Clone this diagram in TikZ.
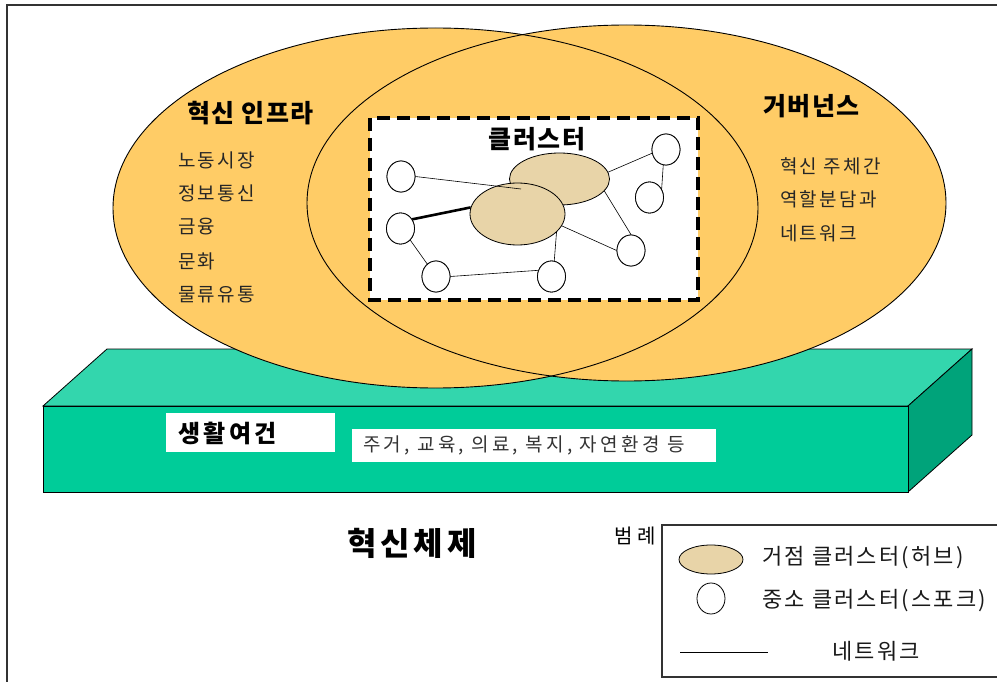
\documentclass[tikz,border=0pt]{standalone}
\usepackage{fontspec}
\setmainfont{Noto Sans CJK KR}
\usetikzlibrary{shapes.geometric}
\definecolor{ellfill}{HTML}{FFCC66}
\definecolor{topg}{HTML}{33D6AD}
\definecolor{frontg}{HTML}{00CC99}
\definecolor{sideg}{HTML}{00A37A}
\definecolor{hubfill}{HTML}{E8D4A8}
\definecolor{frame}{HTML}{333333}
\tikzset{
  face/.style={draw=black, line width=0.8pt, line join=miter},
  bigell/.style={line width=0.9pt},
  hub/.style={ellipse, draw=black, line width=0.8pt, fill=hubfill, inner sep=0pt},
  spoke/.style={ellipse, draw=black, line width=0.8pt, fill=white, inner sep=0pt, minimum width=28pt, minimum height=31pt},
  net/.style={draw=black, line width=0.6pt},
  thicknet/.style={draw=black, line width=2.6pt},
  headfont/.style={font=\fontsize{25}{28}\selectfont\bfseries\addfontfeature{LetterSpace=6}},
  head/.style={headfont, inner sep=0pt, anchor=west},
  item/.style={font=\fontsize{19}{22}\selectfont\addfontfeature{LetterSpace=12}, text=black!85, inner sep=0pt, anchor=west},
  legtext/.style={font=\fontsize{22}{25}\selectfont\addfontfeature{LetterSpace=10}, text=black!90, inner sep=0pt, anchor=west},
}
\begin{document}
\begin{tikzpicture}[x=1pt,y=-1pt]
\useasboundingbox (0,0) rectangle (997,682);
\begin{scope}
\clip (0,0) rectangle (997,682);
% outer frame
\draw[frame, line width=2pt] (7,5) rectangle (1010,700);

% platform
\path[face, fill=topg] (43,406) -- (107,349) -- (972,349) -- (908,406) -- cycle;
\path[face, fill=sideg] (908,406) -- (972,349) -- (972,435) -- (908,492) -- cycle;
\path[face, fill=frontg] (43,406) rectangle (908,492);

% ellipses
\fill[ellfill] (435.5,208) ellipse [x radius=322.5pt, y radius=180pt];
\fill[ellfill] (626.5,203) ellipse [x radius=319.5pt, y radius=178pt];
\draw[bigell] (435.5,208) ellipse [x radius=322.5pt, y radius=180pt];
\draw[bigell] (626.5,203) ellipse [x radius=319.5pt, y radius=178pt];

% cluster box
\fill[white] (370,118) rectangle (698,300);
\draw[line width=4pt, dash pattern=on 13pt off 7pt] (370,118) rectangle (698,300);
\node[headfont, inner sep=0pt] (tclu) at (537,139) {클러스터};

% hubs
\node[hub, minimum width=100pt, minimum height=52pt] (hub1) at (559.5,179) {};
\node[hub, minimum width=95pt, minimum height=62pt] (hub2) at (517.5,214) {};

% spokes
\node[spoke] (c1) at (401,176.5) {};
\node[spoke] (c2) at (400.5,228.5) {};
\node[spoke] (c3) at (436,276.5) {};
\node[spoke] (c4) at (551.5,276.5) {};
\node[spoke] (c5) at (631,250.5) {};
\node[spoke] (c6) at (649.5,197.5) {};
\node[spoke] (c7) at (666,149.5) {};
\coordinate (e1) at (521,189);

% network lines
\draw[net] (c1.east) -- (e1);
\draw[thicknet] (c2.38) -- (hub2.172);
\draw[net] (c2.-50) -- (c3.125);
\draw[net] (c3.east) -- (c4.155);
\draw[net] (c4.80) -- (hub2.-25);
\draw[net] (hub2.-15) -- (c5.west);
\draw[net] (hub1.-15) -- (c5.north);
\draw[net] (hub1.8) -- (c7.195);
\draw[net] (c7.-100) -- (c6.35);

% redraw spokes on top
\node[spoke] at (c1) {};
\node[spoke] at (c2) {};
\node[spoke] at (c3) {};
\node[spoke] at (c4) {};
\node[spoke] at (c5) {};
\node[spoke] at (c6) {};
\node[spoke] at (c7) {};

% left ellipse texts
\node[head] (tinfra) at (187,113) {혁신 인프라};
\node[item] (l1) at (178,160) {노동시장};
\node[item] (l2) at (178,193) {정보통신};
\node[item] (l3) at (178,227) {금융};
\node[item] (l4) at (178,261) {문화};
\node[item] (l5) at (178,295) {물류유통};

% right ellipse texts
\node[head] (tgov) at (763,106) {거버넌스};
\node[item] (r1) at (780,166) {혁신 주체간};
\node[item] (r2) at (780,199) {역할분담과};
\node[item] (r3) at (780,233) {네트워크};

% platform labels
\fill[white] (166,413) rectangle (335,452);
\node[font=\fontsize{24}{27}\selectfont\bfseries\addfontfeature{LetterSpace=14}, inner sep=0pt, anchor=west] (tlife) at (178,433) {생활여건};
\fill[white] (352,429) rectangle (716,462);
\node[item, text=black!80, font=\fontsize{19}{22}\selectfont\addfontfeature{LetterSpace=17}] (tlife2) at (363,445) {주거, 교육, 의료, 복지, 자연환경 등};

% title
\node[font=\fontsize{32}{36}\selectfont\bfseries\addfontfeature{LetterSpace=12}, inner sep=0pt] (tsys) at (412,543) {혁신체제};

% legend
\node[font=\fontsize{20}{23}\selectfont\addfontfeature{LetterSpace=20}, inner sep=0pt] (tleg) at (635,536) {범례};
\draw[frame, line width=1.5pt] (662,525) rectangle (1010,677);
\node[hub, minimum width=64pt, minimum height=29pt] (lhub) at (711,559.5) {};
\node[legtext] (lt1) at (762,558) {거점 클러스터(허브)};
\node[spoke] (lspk) at (711,598.5) {};
\node[legtext] (lt2) at (762,601) {중소 클러스터(스포크)};
\coordinate (ln1) at (680,652);
\coordinate (ln2) at (768,652);
\draw[net, line width=1pt] (ln1) -- (ln2);
\node[legtext] (lt3) at (832,651) {네트워크};
\end{scope}
\end{tikzpicture}
\end{document}
